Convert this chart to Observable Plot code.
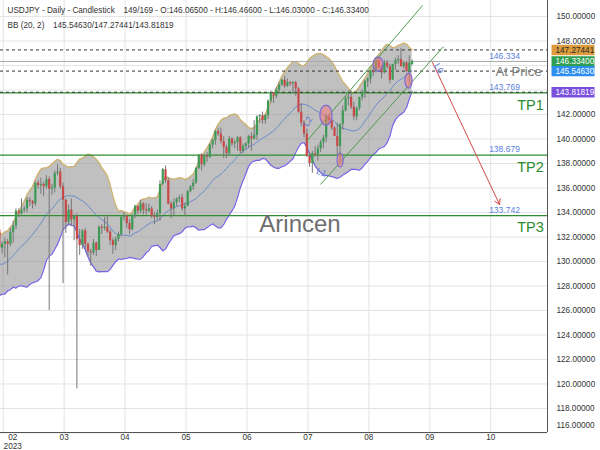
<!DOCTYPE html>
<html><head><meta charset="utf-8">
<script src="https://cdn.jsdelivr.net/npm/d3@7"></script>
<script src="https://cdn.jsdelivr.net/npm/@observablehq/plot@0.6"></script>
<style>
body{margin:0;background:#fff;}
#chart{width:600px;height:450px;}
svg{font-family:"Liberation Sans",Arial,sans-serif;}
</style></head><body><div id="chart"></div>
<script>
// ---- Data (daily bars, index = position in this list) ----
const dates = [
"2023-01-09","2023-01-10","2023-01-11","2023-01-12","2023-01-13","2023-01-16","2023-01-17","2023-01-18","2023-01-19","2023-01-20",
"2023-01-23","2023-01-24","2023-01-25","2023-01-26","2023-01-27","2023-01-30","2023-01-31","2023-02-01","2023-02-02","2023-02-03",
"2023-02-06","2023-02-07","2023-02-08","2023-02-09","2023-02-10","2023-02-13","2023-02-14","2023-02-15","2023-02-16","2023-02-17",
"2023-02-20","2023-02-21","2023-02-22","2023-02-23","2023-02-24","2023-02-27","2023-02-28","2023-03-01","2023-03-02","2023-03-03",
"2023-03-06","2023-03-07","2023-03-08","2023-03-09","2023-03-10","2023-03-13","2023-03-14","2023-03-15","2023-03-16","2023-03-17",
"2023-03-20","2023-03-21","2023-03-22","2023-03-23","2023-03-24","2023-03-27","2023-03-28","2023-03-29","2023-03-30","2023-03-31",
"2023-04-03","2023-04-04","2023-04-05","2023-04-06","2023-04-07","2023-04-10","2023-04-11","2023-04-12","2023-04-13","2023-04-14",
"2023-04-17","2023-04-18","2023-04-19","2023-04-20","2023-04-21","2023-04-24","2023-04-25","2023-04-26","2023-04-27","2023-04-28",
"2023-05-01","2023-05-02","2023-05-03","2023-05-04","2023-05-05","2023-05-08","2023-05-09","2023-05-10","2023-05-11","2023-05-12",
"2023-05-15","2023-05-16","2023-05-17","2023-05-18","2023-05-19","2023-05-22","2023-05-23","2023-05-24","2023-05-25","2023-05-26",
"2023-05-29","2023-05-30","2023-05-31","2023-06-01","2023-06-02","2023-06-05","2023-06-06","2023-06-07","2023-06-08","2023-06-09",
"2023-06-12","2023-06-13","2023-06-14","2023-06-15","2023-06-16","2023-06-19","2023-06-20","2023-06-21","2023-06-22","2023-06-23",
"2023-06-26","2023-06-27","2023-06-28","2023-06-29","2023-06-30","2023-07-03","2023-07-04","2023-07-05","2023-07-06","2023-07-07",
"2023-07-10","2023-07-11","2023-07-12","2023-07-13","2023-07-14","2023-07-17","2023-07-18","2023-07-19","2023-07-20","2023-07-21",
"2023-07-24","2023-07-25","2023-07-26","2023-07-27","2023-07-28","2023-07-31","2023-08-01","2023-08-02","2023-08-03","2023-08-04",
"2023-08-07","2023-08-08","2023-08-09","2023-08-10","2023-08-11","2023-08-14","2023-08-15","2023-08-16","2023-08-17","2023-08-18",
"2023-08-21","2023-08-22","2023-08-23","2023-08-24","2023-08-25","2023-08-28","2023-08-29","2023-08-30","2023-08-31","2023-09-01",
"2023-09-04"];
const open = [
132.1,131.9,132.2,132.4,129.2,127.9,128.5,128.1,128.9,128.4,
129.6,130.7,130.2,129.2,130.2,129.9,130.4,130.1,128.9,128.7,
131.2,132.6,131.1,131.4,131.6,131.4,132.4,132.9,134.1,133.9,
134.2,134.3,135.0,134.9,134.7,136.4,136.2,136.3,136.1,136.7,
135.9,136.0,137.2,137.3,136.1,135.0,133.2,134.2,133.4,133.7,
131.8,131.3,132.5,131.4,130.8,130.7,131.5,130.9,132.8,132.7,
132.8,132.4,131.7,131.3,131.8,132.2,133.6,133.7,133.1,132.6,
133.8,134.5,134.1,134.7,134.2,134.1,134.3,133.7,133.6,133.9,
136.3,137.5,136.6,134.7,134.3,134.8,135.1,135.2,134.3,134.5,
135.7,136.1,136.4,137.6,138.7,137.9,138.6,138.5,139.5,139.9,
140.6,140.4,139.8,139.3,138.8,140.0,139.6,139.7,140.1,139.0,
139.4,139.6,140.2,140.0,140.3,141.8,141.9,141.5,141.9,143.1,
143.7,143.5,144.0,144.4,144.8,144.3,144.6,144.5,144.6,144.1,
142.2,141.3,140.4,138.6,138.0,138.8,138.7,139.2,139.7,140.1,
141.8,141.5,140.9,140.2,139.4,141.2,142.3,143.3,143.4,142.6,
141.8,142.5,143.4,143.8,144.7,144.9,145.6,145.5,146.4,145.8,
145.4,146.2,145.9,144.8,146.1,146.4,146.5,145.9,146.2,145.5,
146.065];
const high = [
132.3,132.3,132.9,132.5,129.3,128.9,129.2,131.6,129.0,130.6,
131.1,131.0,130.5,130.6,130.6,130.5,130.5,130.2,128.9,131.2,
132.9,132.6,131.6,131.9,131.8,132.7,133.3,134.3,134.3,135.1,
134.5,135.2,135.2,135.0,136.5,136.6,136.8,136.5,137.0,136.9,
136.3,137.4,137.9,137.6,136.4,135.1,134.6,135.1,133.8,133.9,
132.6,132.6,132.7,131.5,131.0,131.8,131.6,132.9,133.0,133.6,
133.8,132.6,131.9,132.0,132.4,133.7,134.0,133.8,133.4,133.8,
134.6,134.5,135.0,134.8,134.7,134.7,134.5,134.0,134.2,136.6,
137.6,137.8,136.8,134.9,135.1,135.2,135.4,135.5,134.8,135.8,
136.2,136.7,137.7,138.7,138.8,138.7,138.9,139.6,140.0,140.7,
140.9,140.9,140.2,139.5,140.2,140.1,139.9,140.2,140.2,139.6,
139.7,140.3,140.5,141.5,141.9,142.0,142.2,142.0,143.2,143.9,
143.8,144.2,144.6,144.9,145.1,144.9,144.7,144.7,144.7,144.2,
142.9,141.5,140.8,138.9,139.0,139.4,139.5,139.9,140.3,142.0,
142.0,141.6,141.0,141.3,141.2,142.7,143.5,143.9,143.9,143.0,
142.6,143.4,144.0,144.8,145.0,145.6,145.9,146.4,146.6,146.0,
146.4,146.4,146.1,146.1,146.6,146.8,147.4,146.3,146.3,146.8,
146.466];
const low = [
131.3,131.5,131.9,129.1,127.5,127.2,127.9,128.0,127.6,128.3,
129.5,129.9,129.0,129.0,129.6,129.4,129.7,128.6,128.1,128.6,
131.1,130.5,130.6,130.3,128.9,131.2,131.5,132.6,133.6,133.8,
134.0,134.0,134.5,134.3,134.5,135.9,135.5,135.3,135.9,126.0,
135.4,135.6,137.0,135.9,128.2,132.3,132.9,132.9,131.7,119.6,
130.5,131.0,131.0,130.4,129.6,130.5,130.4,130.9,132.2,132.5,
132.3,131.3,130.6,130.9,131.6,132.0,133.3,132.7,132.2,132.5,
133.5,133.8,133.9,133.8,133.8,134.0,133.5,133.0,133.3,133.3,
136.2,136.4,134.6,133.5,133.7,134.5,134.8,134.1,133.7,134.5,
135.6,135.8,136.3,137.5,137.4,137.7,138.1,138.4,139.2,139.5,
140.2,139.6,138.4,138.4,138.6,139.4,139.2,139.0,138.8,138.8,
139.1,139.2,139.0,139.9,139.9,141.3,141.2,141.2,141.6,142.9,
142.9,143.3,143.8,144.3,144.1,144.2,144.3,143.7,143.5,142.1,
141.0,140.1,138.5,137.7,137.2,138.5,138.2,138.9,139.2,139.7,
141.2,140.7,140.2,138.7,138.1,140.7,142.2,142.7,142.4,141.5,
141.5,142.3,143.1,143.3,144.2,144.5,145.1,145.4,145.7,144.9,
145.3,145.7,144.5,144.8,145.6,146.1,145.9,145.7,145.4,144.5,
146.03];
const close = [
131.9,132.2,132.4,129.2,127.9,128.5,128.1,128.9,128.4,129.6,
130.7,130.2,129.2,130.2,129.9,130.4,130.1,128.9,128.7,131.2,
132.6,131.1,131.4,131.6,131.4,132.4,132.9,134.1,133.9,134.2,
134.3,135.0,134.9,134.7,136.4,136.2,136.3,136.1,136.7,135.9,
136.0,137.2,137.3,136.1,135.0,133.2,134.2,133.4,133.7,131.8,
131.3,132.5,131.4,130.8,130.7,131.5,130.9,132.8,132.7,132.8,
132.4,131.7,131.3,131.8,132.2,133.6,133.7,133.1,132.6,133.8,
134.5,134.1,134.7,134.2,134.1,134.3,133.7,133.6,133.9,136.3,
137.5,136.6,134.7,134.3,134.8,135.1,135.2,134.3,134.5,135.7,
136.1,136.4,137.6,138.7,137.9,138.6,138.5,139.5,139.9,140.6,
140.4,139.8,139.3,138.8,140.0,139.6,139.7,140.1,139.0,139.4,
139.6,140.2,140.0,140.3,141.8,141.9,141.5,141.9,143.1,143.7,
143.5,144.0,144.4,144.8,144.3,144.6,144.5,144.6,144.1,142.2,
141.3,140.4,138.6,138.0,138.8,138.7,139.2,139.7,140.1,141.8,
141.5,140.9,140.2,139.4,141.2,142.3,143.3,143.4,142.6,141.8,
142.5,143.4,143.8,144.7,144.9,145.6,145.5,146.4,145.8,145.4,
146.2,145.9,144.8,146.1,146.4,146.5,145.9,146.2,145.5,146.2,
146.334];

// Axis ticks
const priceTicks = [116,118,120,122,124,126,128,130,132,134,136,138,140,142,144,146,148,150];
const monthTickPos = [22.4,44.4,66.4,88.4,110.4,132.4,154.4,176.4,198.4];
const monthTickLabels = ["02","03","04","05","06","07","08","09","10"];
const yearLabel = "2023";

// Header
const symbolName = "USDJPY", timeframe = "Daily", chartType = "Candlestick";
const barPos = 149, barCount = 169;
const lastOHLC = [146.065, 146.466, 146.03, 146.334];
const bbParams = [20, 2];
const bbLast = [145.54630, 147.27441, 143.81819]; // mid, upper, lower

// Levels / annotations
const currentPrice = 146.334;
const tpLevels = [143.769, 138.679, 133.742];
const tpNames = ["TP1","TP2","TP3"];
const channelStart = [[131.9, 139.80],[136.95, 136.29]];
const channelEnd = [[173.77, 150.90],[181.35, 147.55]];
const arrowFrom = [177.4, 146.24], arrowTo = [201.6, 134.65];
const ellipseX = [[136.9,141.3],[143.1,145.3],[156.1,159.7],[167.6,170.2]];
const ellipseY = [[141.10,142.73],[137.67,138.82],[145.51,146.65],[144.12,145.35]];
const waveText = ["L2","L1","L0"];
const waveX = [132.3, 137.3, 179.6];
const waveY = [141.43, 137.27, 145.76];
const waveRotate = [-60, 20, 60];
const watermark = "Arincen";

// ---- Build tables ----
const bars = close.map((c,i)=>({i, date: dates[i], o: open[i], h: high[i], l: low[i], c})).filter(d=>d.i>=21);
const N = bbParams[0], K = bbParams[1];
const bb = [];
for (let i = N-1; i < close.length; i++) {
  const w = close.slice(i-N+1, i+1);
  const m = d3.mean(w);
  const sd = Math.sqrt(d3.mean(w, v => (v-m)**2));
  bb.push({i, mid: m, up: m + K*sd, lo: m - K*sd});
}
const channels = channelStart.map((s,k)=>({x1:s[0], y1:s[1], x2:channelEnd[k][0], y2:channelEnd[k][1]}));
const ellipses = ellipseX.map((x,k)=>({x1:x[0], x2:x[1], y1:ellipseY[k][0], y2:ellipseY[k][1]}));
const waves = waveText.map((t,k)=>({t, x: waveX[k], y: waveY[k], r: waveRotate[k]}));
const XD = [21.42, 218.9], YD = [116.04, 151.31];

const boxSymbol = {draw(ctx){ ctx.rect(-21.5, -5.2, 43, 10.4); }};
const sideLabels = [
  {v: bbLast[1], bg: "#dc9c3c", fg: "#2a2a2a"},
  {v: currentPrice, bg: "#2e9e52", fg: "#ffffff"},
  {v: bbLast[0], bg: "#2d8ef0", fg: "#ffffff"},
  {v: bbLast[2], bg: "#7a4fdc", fg: "#ffffff"}
];
// tick labels hidden behind the value boxes are not drawn
const shownTicks = priceTicks.filter(t => sideLabels.every(s => Math.abs(s.v - t) > 0.6));

const fs = 8.2;
const chart = Plot.plot({
  width: 600, height: 450,
  marginLeft: 0, marginRight: 53, marginTop: 0, marginBottom: 18,
  x: {type: "linear", domain: XD, axis: null},
  y: {type: "linear", domain: YD, axis: null},
  style: {fontFamily: "Liberation Sans, Arial, sans-serif", fontSize: fs + "px", color: "#333", overflow: "visible", background: "#fff"},
  marks: [
    Plot.ruleY(priceTicks, {stroke: "#e4e4e4"}),
    Plot.ruleX(monthTickPos, {stroke: "#e4e4e4"}),
    Plot.areaY(bb, {x: "i", y1: "lo", y2: "up", fill: "#8c8c8c", fillOpacity: 0.55, clip: true}),
    Plot.line(bb, {x: "i", y: "up", stroke: "#cfb26c", strokeWidth: 1.3, clip: true}),
    Plot.line(bb, {x: "i", y: "lo", stroke: "#7565e0", strokeWidth: 1.3, clip: true}),
    Plot.line(bb, {x: "i", y: "mid", stroke: "#6b8bcc", strokeWidth: 1, clip: true}),
    Plot.ruleY(tpLevels, {stroke: "#2f8c2f", strokeWidth: 1.2}),
    Plot.ruleY([currentPrice], {stroke: "#a9a9a9", strokeWidth: 1}),
    Plot.ruleY(bbLast, {stroke: "#333", strokeDasharray: "3,3", strokeWidth: 1}),
    Plot.ruleX(bars, {x: "i", y1: "l", y2: "h", stroke: "#777", strokeWidth: 1, clip: true}),
    Plot.ruleX(bars.filter(d=>d.c>=d.o), {x: "i", y1: "o", y2: "c", stroke: "#3d9a55", strokeWidth: 2.2, clip: true}),
    Plot.ruleX(bars.filter(d=>d.c<d.o), {x: "i", y1: "o", y2: "c", stroke: "#c94848", strokeWidth: 2.2, clip: true}),
    Plot.link(channels, {x1: "x1", y1: "y1", x2: "x2", y2: "y2", stroke: "#4f9a4f", strokeWidth: 1, clip: true}),
    Plot.rect(ellipses, {x1: "x1", x2: "x2", y1: "y1", y2: "y2", fill: "#f07878", fillOpacity: 0.55, stroke: "#7a6ad8", strokeWidth: 1.2, rx: 60, ry: 60}),
    Plot.arrow([0], {x1: ()=>arrowFrom[0], y1: ()=>arrowFrom[1], x2: ()=>arrowTo[0], y2: ()=>arrowTo[1], stroke: "#d44848", strokeWidth: 1, headLength: 9}),
    Plot.text(waves, {x: "x", y: "y", text: "t", rotate: "r", fill: "#5a78d8", fontSize: 9}),
    // level value labels
    Plot.text([currentPrice, ...tpLevels], {y: d=>d, text: d=>d.toFixed(3), frameAnchor: "right", textAnchor: "middle", dx: -43, dy: -5.5, fill: "#5b7fe0", fontSize: fs + 0.3}),
    Plot.text(tpLevels, {y: d=>d, text: (d,i)=>tpNames[i], frameAnchor: "right", textAnchor: "middle", dx: -17, dy: 12, fill: "#2c8c2c", fontSize: 14.5}),
    Plot.text([currentPrice], {y: d=>d, text: ()=>"At Price", frameAnchor: "right", textAnchor: "middle", dx: -29, dy: 10.5, fill: "#7c7c7c", fontSize: 13.2}),
    Plot.text([watermark], {text: d=>d, frameAnchor: "middle", dx: 26, dy: 8, fill: "#6e6e6e", fontSize: 24}),
    // header
    Plot.text([`${symbolName} - ${timeframe} - ${chartType}`], {text: d=>d, frameAnchor: "top-left", textAnchor: "start", lineAnchor: "middle", dx: 7, dy: 10.3, fill: "#333", fontSize: fs}),
    Plot.text([`${barPos}/${barCount} - O:${lastOHLC[0].toFixed(5)} - H:${lastOHLC[1].toFixed(5)} - L:${lastOHLC[2].toFixed(5)} - C:${lastOHLC[3].toFixed(5)}`], {text: d=>d, frameAnchor: "top-left", textAnchor: "start", lineAnchor: "middle", dx: 123, dy: 10.3, fill: "#333", fontSize: fs}),
    Plot.text([`BB (${bbParams[0]}, ${bbParams[1]})`], {text: d=>d, frameAnchor: "top-left", textAnchor: "start", lineAnchor: "middle", dx: 7, dy: 25.3, fill: "#333", fontSize: fs}),
    Plot.text([`${bbLast[0].toFixed(5)}/${bbLast[1].toFixed(5)}/${bbLast[2].toFixed(5)}`], {text: d=>d, frameAnchor: "top-left", textAnchor: "start", lineAnchor: "middle", dx: 52.5, dy: 25.3, fill: "#333", fontSize: fs}),
    // axes lines
    Plot.ruleX([XD[1]], {stroke: "#555", strokeWidth: 1}),
    Plot.ruleY([YD[0]], {stroke: "#555", strokeWidth: 1}),
    // y tick labels (right)
    Plot.text(shownTicks.filter(v=>v>116), {y: d=>d, text: d=>d.toFixed(5), frameAnchor: "right", textAnchor: "start", dx: 9, fill: "#333", fontSize: fs}),
    Plot.text(shownTicks.filter(v=>v===116), {y: d=>d, text: d=>d.toFixed(5), frameAnchor: "right", textAnchor: "start", dx: 9, dy: -7.5, fill: "#333", fontSize: fs}),
    // x tick labels
    Plot.text(monthTickPos.slice(1), {x: d=>d, text: (d,i)=>monthTickLabels[i+1], frameAnchor: "bottom", lineAnchor: "top", dy: 2, fill: "#333", fontSize: fs}),
    Plot.text(monthTickPos.slice(0,1), {x: d=>d, text: ()=>monthTickLabels[0] + "\n" + yearLabel, frameAnchor: "bottom", lineAnchor: "top", dx: 9.5, dy: 2, lineHeight: 1.0, fill: "#333", fontSize: fs}),
    // side value boxes
    ...sideLabels.map(s => Plot.dot([s.v], {y: d=>d, frameAnchor: "right", dx: 25.5, symbol: boxSymbol, fill: s.bg, stroke: "none"})),
    ...sideLabels.map(s => Plot.text([s.v], {y: d=>d, text: d=>d.toFixed(5), frameAnchor: "right", textAnchor: "start", dx: 8, fill: s.fg, fontSize: fs}))
  ]
});
document.getElementById("chart").appendChild(chart);
</script>
</body></html>
